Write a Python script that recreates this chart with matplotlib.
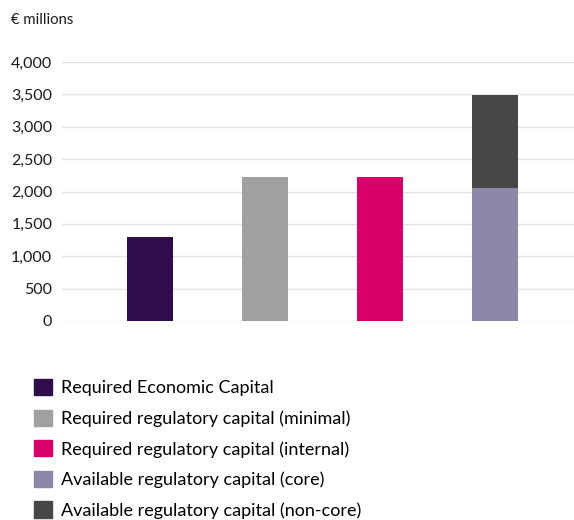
import numpy as np
import matplotlib
matplotlib.use("Agg")
import matplotlib.pyplot as plt
import matplotlib.patches as mpatches

plt.rcParams['font.family'] = ['Lato', 'DejaVu Sans']

# capital figures in EUR millions
categories = ["Required Economic Capital",
              "Required regulatory capital (minimal)",
              "Required regulatory capital (internal)",
              "Available regulatory capital"]
required = [1300, 2225, 2225]
available_core = 2060
available_noncore = 1430

legend_labels = ["Required Economic Capital",
                 "Required regulatory capital (minimal)",
                 "Required regulatory capital (internal)",
                 "Available regulatory capital (core)",
                 "Available regulatory capital (non-core)"]
colors = ["#2f0c4b", "#a0a0a0", "#d8006b", "#8c88a8", "#474747"]

yticks = [0, 500, 1000, 1500, 2000, 2500, 3000, 3500, 4000]

fig = plt.figure(figsize=(5.74, 5.2), dpi=100)
ax = fig.add_axes([62 / 574, 1 - 321 / 520, 1 - 62 / 574, 259 / 520])

x = np.arange(len(categories))
width = 0.4
# three single bars, then the stacked available capital
ax.bar(x[:3], required, width, color=colors[:3], zorder=2)
ax.bar(x[3], available_core, width, color=colors[3], zorder=2)
ax.bar(x[3], available_noncore, width, bottom=available_core, color=colors[4], zorder=2)

ax.set_xlim(-0.765, 3.69)
ax.set_ylim(0, 4000)
ax.set_yticks(yticks)
ax.set_yticklabels([f"{v:,}" for v in yticks])
ax.set_xticks([])
ax.tick_params(axis='y', length=0, pad=7, labelsize=11.5, colors='#1a1a1a')
ax.grid(axis='y', color='#e4e4e4', linewidth=1, zorder=0)
for s in ax.spines.values():
    s.set_visible(False)

fig.text(11 / 574, 1 - 20 / 520, "€ millions", fontsize=10.7, color='#1a1a1a', va='center')

handles = [mpatches.Patch(color=c, label=l) for c, l in zip(colors, legend_labels)]
fig.legend(handles=handles, loc='upper left', bbox_to_anchor=(34 / 574, 1 - 379 / 520),
           frameon=False, fontsize=13, handlelength=1.0, handleheight=1.0,
           handletextpad=0.5, labelspacing=0.74, borderaxespad=0, borderpad=0)

fig.savefig("out.png", dpi=100)
